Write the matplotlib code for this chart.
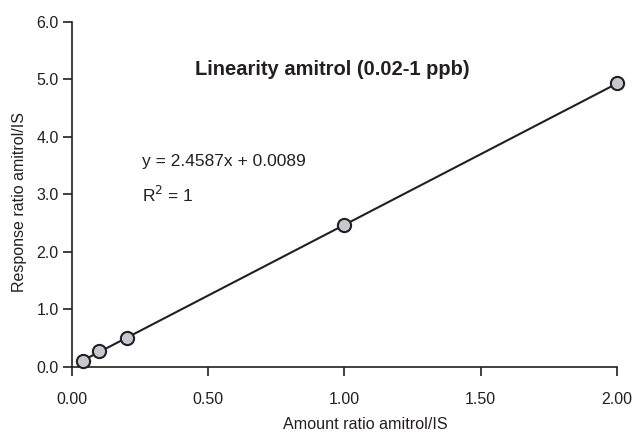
import numpy as np
import matplotlib
matplotlib.use("Agg")
import matplotlib.pyplot as plt

# datos
amount_ratio = [0.04, 0.10, 0.20, 1.00, 2.00]
response_ratio = [0.10, 0.27, 0.49, 2.46, 4.94]
slope = 2.4587
intercept = 0.0089
x_ticks = [0.0, 0.5, 1.0, 1.5, 2.0]
x_tick_labels = ["0.00", "0.50", "1.00", "1.50", "2.00"]
y_ticks = [0.0, 1.0, 2.0, 3.0, 4.0, 5.0, 6.0]
y_tick_labels = ["0.0", "1.0", "2.0", "3.0", "4.0", "5.0", "6.0"]

txt = "#231f20"
regular = ["Liberation Sans", "DejaVu Sans"]

fig = plt.figure(figsize=(6.32, 4.38), dpi=100)
ax = fig.add_axes([0.114, 0.163, 0.862, 0.787])

# recta de ajuste
xs = np.array([amount_ratio[0], amount_ratio[-1]])
ax.plot(xs, slope * xs + intercept, color=txt, lw=1.5, zorder=2)

# puntos
ax.plot(amount_ratio, response_ratio, "o", ms=9.5, mfc="#c5c8d0",
        mec=txt, mew=1.5, zorder=3, clip_on=False)

ax.set_xlim(0, 2.0)
ax.set_ylim(0, 6.0)
ax.set_xticks(x_ticks)
ax.set_xticklabels(x_tick_labels, family=regular, fontsize=11.5, color=txt)
ax.set_yticks(y_ticks)
ax.set_yticklabels(y_tick_labels, family=regular, fontsize=11.5, color=txt)
ax.tick_params(axis="x", direction="out", length=6.5, width=1.2, pad=12, color=txt)
ax.tick_params(axis="y", direction="out", length=6.5, width=1.2, pad=3, color=txt)

for s in ["top", "right"]:
    ax.spines[s].set_visible(False)
for s in ["left", "bottom"]:
    ax.spines[s].set_color(txt)
    ax.spines[s].set_linewidth(1.2)

ax.set_xlabel("Amount ratio amitrol/IS", family=regular, fontsize=11.6, color=txt)
ax.set_ylabel("Response ratio amitrol/IS", family=regular, fontsize=11.5, color=txt)
ax.xaxis.set_label_coords(0.538, -0.147)
ax.yaxis.set_label_coords(-0.083, 0.477)

ax.text(0.956, 5.17, "Linearity amitrol (0.02-1 ppb)", family=regular, fontsize=14.5,
        fontweight="bold", ha="center", va="center", color=txt)
ax.text(0.256, 3.57, "y = 2.4587x + 0.0089", family=regular, fontsize=12.5,
        ha="left", va="center", color=txt)
ax.text(0.256, 2.99, "R$^2$ = 1", family=regular, fontsize=12.5,
        ha="left", va="center", color=txt)

fig.savefig("out.png", dpi=100)
